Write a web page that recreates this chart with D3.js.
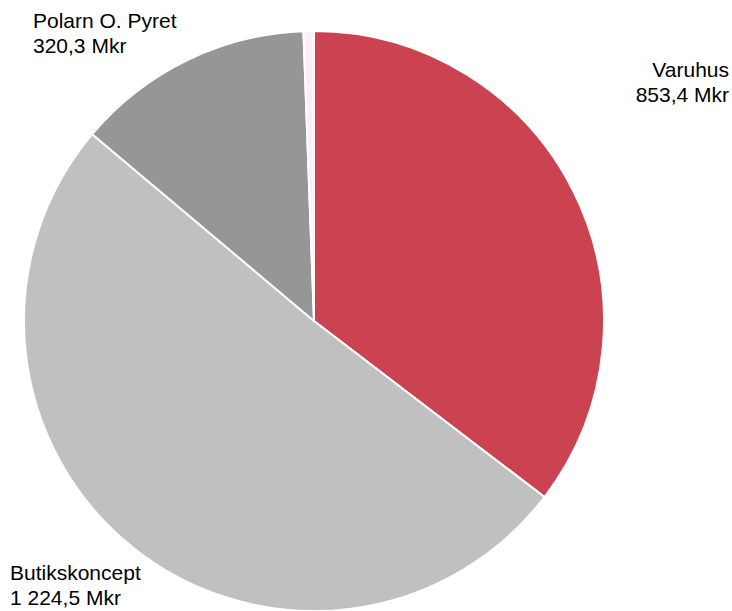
<!DOCTYPE html>
<html><head><meta charset="utf-8">
<script src="https://cdn.jsdelivr.net/npm/d3@7"></script>
<style>body{margin:0;background:#fff;}svg{display:block;}</style>
</head><body>
<script>
const categories = ["Varuhus", "Butikskoncept", "Polarn O. Pyret", "Övrigt"];
const values = [853.4, 1224.5, 320.3, 14];
const valueLabels = ["853,4 Mkr", "1 224,5 Mkr", "320,3 Mkr", ""];
const colors = ["#cb4250", "#c0c0c0", "#969696", "#fdeef4"];

const W = 732, H = 611;
const cx = 314, cy = 321, r = 290;
const svg = d3.select("body").append("svg").attr("width", W).attr("height", H);

const pie = d3.pie().sort(null).value(d => d.v);
const data = categories.map((c, i) => ({c, v: values[i], lab: valueLabels[i], col: colors[i]}));
const arcs = pie(data);
const arc = d3.arc().innerRadius(0).outerRadius(r);

svg.append("g").attr("transform", `translate(${cx},${cy})`)
  .selectAll("path").data(arcs).join("path")
  .attr("d", arc).attr("fill", d => d.data.col)
  .attr("stroke", "#fff").attr("stroke-width", 2).attr("stroke-linejoin", "round");

const labelPos = [
  {x: 729, y: 77, anchor: "end"},
  {x: 10, y: 580, anchor: "start"},
  {x: 33, y: 28, anchor: "start"}
];
labelPos.forEach((p, i) => {
  const t = svg.append("text").attr("x", p.x).attr("y", p.y)
    .attr("text-anchor", p.anchor)
    .attr("font-family", "Liberation Sans, Arial, sans-serif")
    .attr("font-size", 21).attr("fill", "#000");
  t.append("tspan").attr("x", p.x).text(categories[i]);
  t.append("tspan").attr("x", p.x).attr("dy", 24.5).text(valueLabels[i]);
});
</script>
</body></html>
